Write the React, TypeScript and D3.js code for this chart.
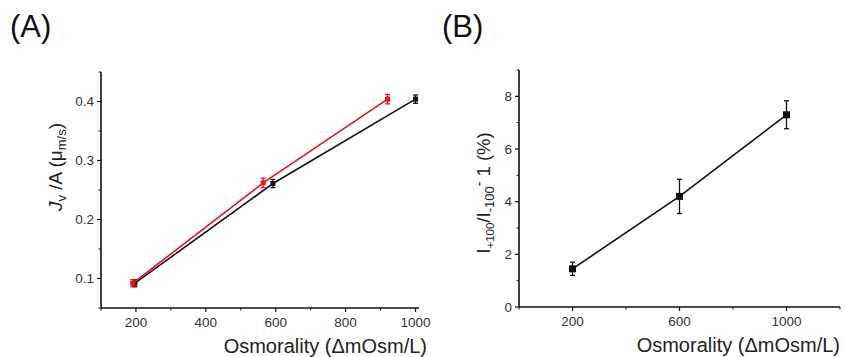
import React, { useEffect, useRef } from "react";
import * as d3 from "d3";

// panel A: flux vs osmolarity, two series
const osmBlack = [197, 592, 1000];
const fluxBlack = [0.092, 0.261, 0.404];
const errBlack = [0.006, 0.007, 0.007];
const osmRed = [191, 564, 920];
const fluxRed = [0.092, 0.262, 0.404];
const errRed = [0.006, 0.008, 0.008];
const ticksAX = [200, 400, 600, 800, 1000];
const minorAX = [100, 300, 500, 700, 900];
const ticksAY = [0.1, 0.2, 0.3, 0.4];
const minorAY = [0.05, 0.15, 0.25, 0.35, 0.45];

// panel B: current ratio vs osmolarity
const osmB = [200, 600, 1000];
const ratioB = [1.45, 4.2, 7.3];
const errB = [0.25, 0.65, 0.53];
const ticksBX = [200, 600, 1000];
const minorBX = [0, 400, 800, 1200];
const ticksBY = [0, 2, 4, 6, 8];
const minorBY = [1, 3, 5, 7, 9];

const FONT = "'Liberation Sans', Arial, sans-serif";

const App = () => {
  const svgRef = useRef<SVGSVGElement>(null);

  useEffect(() => {
    const svg = d3.select(svgRef.current);
    svg.selectAll("*").remove();
    svg.style("font-family", FONT);

    const drawAxes = (g, x, y, xt, xm, yt, ym, yFmt) => {
      const [x0, x1] = x.range();
      const [y0, y1] = y.range();
      g.append("line").attr("x1", x0).attr("x2", x1).attr("y1", y0).attr("y2", y0)
        .attr("stroke", "#111").attr("stroke-width", 1.6);
      g.append("line").attr("x1", x0).attr("x2", x0).attr("y1", y0).attr("y2", y1)
        .attr("stroke", "#111").attr("stroke-width", 1.6);
      xt.forEach((v) => {
        g.append("line").attr("x1", x(v)).attr("x2", x(v)).attr("y1", y0).attr("y2", y0 + 4)
          .attr("stroke", "#111").attr("stroke-width", 1.2);
        g.append("text").attr("x", x(v)).attr("y", y0 + 19).attr("text-anchor", "middle")
          .attr("font-size", 13.5).attr("fill", "#333").text(v);
      });
      xm.forEach((v) => {
        g.append("line").attr("x1", x(v)).attr("x2", x(v)).attr("y1", y0).attr("y2", y0 + 2.5)
          .attr("stroke", "#111").attr("stroke-width", 1);
      });
      yt.forEach((v) => {
        g.append("line").attr("x1", x0).attr("x2", x0 - 4).attr("y1", y(v)).attr("y2", y(v))
          .attr("stroke", "#111").attr("stroke-width", 1.2);
        g.append("text").attr("x", x0 - 7).attr("y", y(v) + 4.5).attr("text-anchor", "end")
          .attr("font-size", 13.5).attr("fill", "#333").text(yFmt(v));
      });
      ym.forEach((v) => {
        g.append("line").attr("x1", x0).attr("x2", x0 - 2.5).attr("y1", y(v)).attr("y2", y(v))
          .attr("stroke", "#111").attr("stroke-width", 1);
      });
    };

    const drawSeries = (g, x, y, xs, ys, es, color, size) => {
      const pts = xs.map((d, i) => [d, ys[i], es[i]]);
      const line = d3.line().x((d) => x(d[0])).y((d) => y(d[1]));
      g.append("path").datum(pts).attr("d", line).attr("fill", "none")
        .attr("stroke", color).attr("stroke-width", 1.6);
      pts.forEach((d) => {
        const cx = x(d[0]);
        g.append("line").attr("x1", cx).attr("x2", cx).attr("y1", y(d[1] - d[2])).attr("y2", y(d[1] + d[2]))
          .attr("stroke", color).attr("stroke-width", 1.3);
        [d[1] - d[2], d[1] + d[2]].forEach((v) => {
          g.append("line").attr("x1", cx - 2.5).attr("x2", cx + 2.5).attr("y1", y(v)).attr("y2", y(v))
            .attr("stroke", color).attr("stroke-width", 1.3);
        });
        g.append("rect").attr("x", cx - size / 2).attr("y", y(d[1]) - size / 2)
          .attr("width", size).attr("height", size).attr("fill", color);
      });
    };

    // ---- Panel A
    const gA = svg.append("g");
    const xA = d3.scaleLinear().domain([100, 1010]).range([101, 419]);
    const yA = d3.scaleLinear().domain([0.05, 0.45]).range([308, 72]);
    drawAxes(gA, xA, yA, ticksAX, minorAX, ticksAY, minorAY, (v) => v.toFixed(1));
    drawSeries(gA, xA, yA, osmBlack, fluxBlack, errBlack, "#111", 5);
    drawSeries(gA, xA, yA, osmRed, fluxRed, errRed, "#e3141b", 5);

    gA.append("text").attr("x", 10).attr("y", 37).attr("font-size", 31).attr("fill", "#111").text("(A)");
    gA.append("text").attr("x", 427).attr("y", 353).attr("text-anchor", "end")
      .attr("font-size", 20).attr("fill", "#222").text("Osmorality (ΔmOsm/L)");
    const labA = gA.append("text").attr("transform", "translate(62,167) rotate(-90)")
      .attr("text-anchor", "middle").attr("font-size", 19).attr("fill", "#222");
    labA.append("tspan").attr("font-style", "italic").text("J");
    labA.append("tspan").attr("font-size", 13).attr("dy", 4).text("v");
    labA.append("tspan").attr("dy", -4).text(" /A (μ");
    labA.append("tspan").attr("font-size", 13).attr("dy", 4).text("m/s");
    labA.append("tspan").attr("dy", -4).text(")");

    // ---- Panel B
    const gB = svg.append("g");
    const xB = d3.scaleLinear().domain([0, 1200]).range([519, 840]);
    const yB = d3.scaleLinear().domain([0, 9]).range([307, 70]);
    drawAxes(gB, xB, yB, ticksBX, minorBX, ticksBY, minorBY, (v) => String(v));
    drawSeries(gB, xB, yB, osmB, ratioB, errB, "#111", 7);

    gB.append("text").attr("x", 442).attr("y", 37).attr("font-size", 31).attr("fill", "#111").text("(B)");
    gB.append("text").attr("x", 840).attr("y", 352).attr("text-anchor", "end")
      .attr("font-size", 20).attr("fill", "#222").text("Osmorality (ΔmOsm/L)");
    const labB = gB.append("text").attr("transform", "translate(490,193) rotate(-90)")
      .attr("text-anchor", "middle").attr("font-size", 18.5).attr("fill", "#222");
    labB.append("tspan").text("I");
    labB.append("tspan").attr("font-size", 11.5).attr("dy", 4).text("+100");
    labB.append("tspan").attr("dy", -4).text("/I");
    labB.append("tspan").attr("font-size", 13).attr("dy", 4).text("-100");
    labB.append("tspan").attr("font-size", 14).attr("dy", -10).text("-");
    labB.append("tspan").attr("dy", 6).text(" 1 (%)");
  }, []);

  return (
    <svg ref={svgRef} width={845} height={357}
      style={{ position: "absolute", left: 0, top: 0, background: "#fff" }} />
  );
};

export default App;
